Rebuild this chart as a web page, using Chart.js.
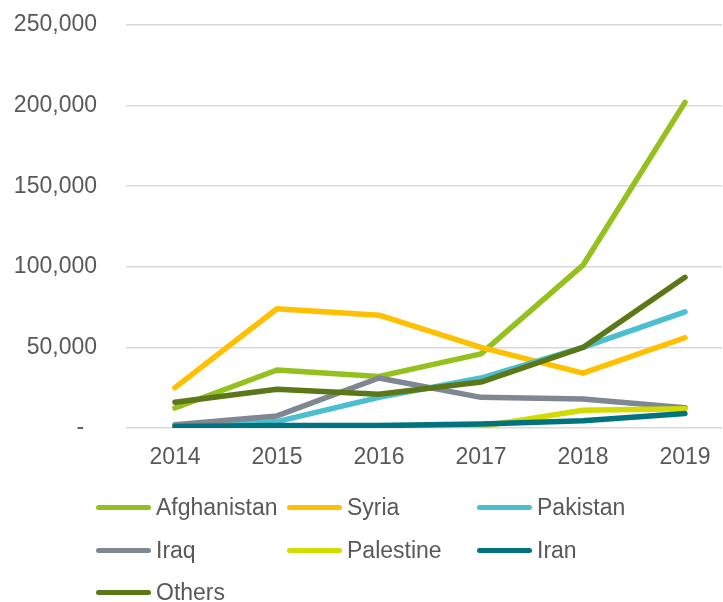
<!DOCTYPE html>
<html>
<head>
<meta charset="utf-8">
<script src="https://cdn.jsdelivr.net/npm/chart.js@4"></script>
<style>
  html, body { margin: 0; padding: 0; background: #fff; }
  #wrap { position: relative; width: 723px; height: 602px; overflow: hidden; }
  #c { position: absolute; left: 0; top: 0; }
  .item { position: absolute; height: 30px; display: flex; align-items: center;
          font-family: "Liberation Sans", Arial, sans-serif; font-size: 23px; color: #595959; white-space: nowrap; }
  .swatch { width: 55px; height: 5px; border-radius: 3px; margin-right: 5px; }
</style>
</head>
<body>
<div id="wrap">
  <canvas id="c" width="723" height="602"></canvas>
</div>
<script>
const years = [2014, 2015, 2016, 2017, 2018, 2019];
const seriesNames = ["Afghanistan", "Syria", "Pakistan", "Iraq", "Palestine", "Iran", "Others"];
const afghanistan = [12400, 36000, 32000, 46000, 101000, 202000];
const syria       = [25000, 74000, 70000, 50000, 34000, 56000];
const pakistan    = [1000, 4000, 19000, 31000, 50000, 72000];
const iraq        = [2000, 7500, 31000, 19000, 18000, 12500];
const palestine   = [200, 300, 400, 1000, 11000, 12000];
const iran        = [1000, 1500, 1500, 2500, 4500, 9000];
const others      = [16000, 24000, 21000, 28500, 50000, 93500];
const yTicks = [0, 50000, 100000, 150000, 200000, 250000];
const colors = ["#95C11F", "#FFC000", "#4BBFCF", "#7F8792", "#D2DC00", "#00737F", "#5B7718"];
const allValues = [afghanistan, syria, pakistan, iraq, palestine, iran, others];

const font = { family: '"Liberation Sans", Arial, sans-serif', size: 23 };
const textColor = "#595959";

const datasets = seriesNames.map((name, i) => ({
  label: name,
  data: years.map((yr, j) => ({ x: yr, y: allValues[i][j] })),
  borderColor: colors[i],
  backgroundColor: colors[i],
  borderWidth: 5.5,
  borderCapStyle: "round",
  borderJoinStyle: "round",
  pointRadius: 0,
  tension: 0,
  fill: false,
  order: seriesNames.length - i
}));

new Chart(document.getElementById("c"), {
  type: "line",
  data: { datasets },
  options: {
    responsive: false,
    animation: false,
    devicePixelRatio: 1,
    layout: { padding: { top: 25, right: 1, left: 0, bottom: 0 } },
    plugins: { legend: { display: false }, tooltip: { enabled: false } },
    scales: {
      x: {
        type: "linear",
        min: 2013.52,
        max: 2019.363,
        afterBuildTicks: (axis) => { axis.ticks = years.map(v => ({ value: v })); },
        afterFit: (axis) => { axis.height = 174; axis.paddingLeft = 0; axis.paddingRight = 0; },
        grid: { display: false, drawTicks: false },
        border: { display: false },
        ticks: { font, color: textColor, padding: 16, callback: (v) => String(v), maxRotation: 0, autoSkip: false }
      },
      y: {
        min: 0,
        max: 250000,
        afterBuildTicks: (axis) => { axis.ticks = yTicks.map(v => ({ value: v })); },
        afterFit: (axis) => { axis.width = 126; axis.paddingTop = 0; axis.paddingBottom = 0; },
        grid: { color: "#D9D9D9", lineWidth: 1.5, drawTicks: false },
        border: { display: false },
        ticks: {
          font, color: textColor, padding: 29,
          callback: (v) => v === 0 ? "-  " : v.toLocaleString("en-US")
        }
      }
    }
  }
});

// HTML legend
const colX = [96, 287, 477];
const rowY = [507.5, 550, 592.5];
const wrap = document.getElementById("wrap");
seriesNames.forEach((name, i) => {
  const el = document.createElement("div");
  el.className = "item";
  el.style.left = colX[i % 3] + "px";
  el.style.top = (rowY[Math.floor(i / 3)] - 15) + "px";
  const sw = document.createElement("span");
  sw.className = "swatch";
  sw.style.background = colors[i];
  const t = document.createElement("span");
  t.textContent = name;
  el.appendChild(sw);
  el.appendChild(t);
  wrap.appendChild(el);
});
</script>
</body>
</html>
